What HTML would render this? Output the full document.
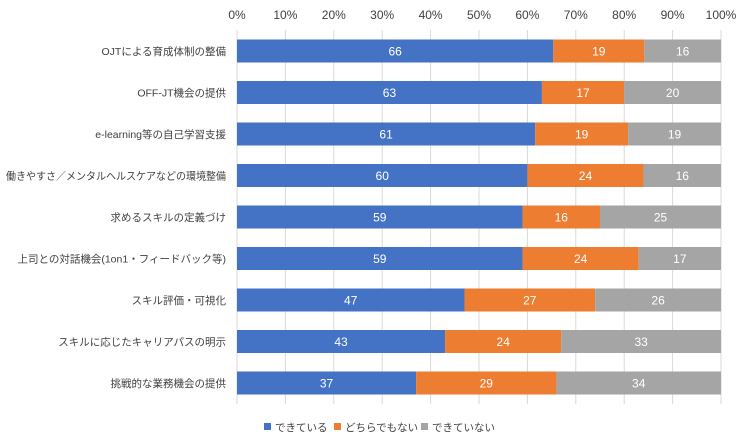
<!DOCTYPE html>
<html><head><meta charset="utf-8">
<style>
body{margin:0;background:#fff;font-family:"Liberation Sans","Noto Sans CJK JP",sans-serif;}
svg text{font-family:"Liberation Sans","Noto Sans CJK JP",sans-serif;}
</style></head>
<body>
<svg id="chart" width="750" height="443"></svg>
<script>
const categories=["OJTによる育成体制の整備","OFF-JT機会の提供","e-learning等の自己学習支援","働きやすさ／メンタルヘルスケアなどの環境整備","求めるスキルの定義づけ","上司との対話機会(1on1・フィードバック等)","スキル評価・可視化","スキルに応じたキャリアパスの明示","挑戦的な業務機会の提供"];
const dekiru=[66,63,61,60,59,59,47,43,37];
const dochira=[19,17,19,24,16,24,27,24,29];
const dekinai=[16,20,19,16,25,17,26,33,34];
const ticks=["0%","10%","20%","30%","40%","50%","60%","70%","80%","90%","100%"];
const seriesNames=["できている","どちらでもない","できていない"];
const colors=["#4472C4","#ED7D31","#A5A5A5"];
const svg=document.getElementById('chart');
const NS="http://www.w3.org/2000/svg";
const x0=237,x1=721,yTop=30,yBot=404,rowH=41.5,barH=23,firstC=51;
const xs=f=>x0+f*(x1-x0);
const yc=i=>firstC+i*rowH;
function mk(t,a){const e=document.createElementNS(NS,t);for(const k in a)e.setAttribute(k,a[k]);svg.appendChild(e);return e;}
ticks.forEach((t,i)=>{
 const x=xs(i/10);
 const g=mk('line',{x1:x,x2:x,y1:yTop,y2:yBot,stroke:'#D9D9D9','stroke-width':1});
 
 
 const tx=mk('text',{x:x,y:19,'text-anchor':'middle','font-size':12,fill:'#404040'});
 tx.textContent=t;
 
 
});
const series=[dekiru,dochira,dekinai];
categories.forEach((c,i)=>{
 const l=mk('text',{x:226,y:yc(i)+4,'text-anchor':'end','font-size':10.5,fill:'#404040'});
 l.textContent=c;
 
 
 const w=l.getComputedTextLength();
 if(w>220){l.setAttribute('textLength',220);l.setAttribute('lengthAdjust','spacingAndGlyphs');}
 const tot=dekiru[i]+dochira[i]+dekinai[i];
 let acc=0;
 series.forEach((s,k)=>{
  const xa=xs(acc/tot),xb=xs((acc+s[i])/tot);
  const r=mk('rect',{x:xa,y:yc(i)-barH/2,width:xb-xa,height:barH,fill:colors[k]});
  
  
  const t=mk('text',{x:(xa+xb)/2,y:yc(i)+4.5,'text-anchor':'middle','font-size':12,fill:'#fff'});
  t.textContent=s[i];
  
  
  acc+=s[i];
 });
});
const lx=[264,334,421];
seriesNames.forEach((n,k)=>{
 const r=mk('rect',{x:lx[k],y:423,width:7,height:7,fill:colors[k]});
 
 
 const t=mk('text',{x:lx[k]+11,y:431,'font-size':10.5,fill:'#404040'});
 t.textContent=n;
 
 
});
</script>
</body></html>
